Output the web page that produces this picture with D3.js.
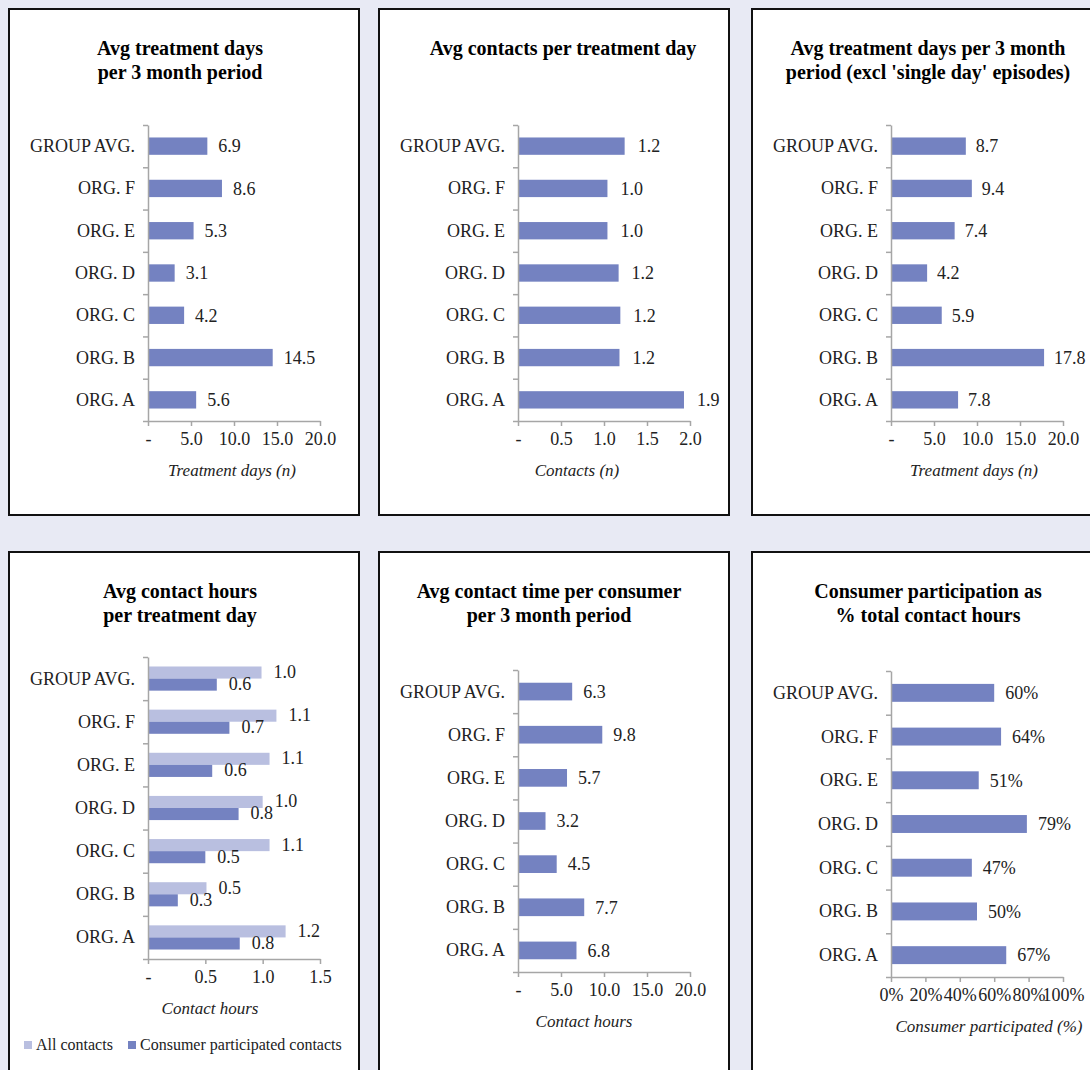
<!DOCTYPE html>
<html>
<head>
<meta charset="utf-8">
<script src="https://cdn.jsdelivr.net/npm/d3@7"></script>
<style>
  body { margin: 0; background: #e8eaf4; }
  svg { display: block; }
</style>
</head>
<body>
<svg id="mySVG" width="1090" height="1070"></svg>
<script>
// ---data---
var categories = ["GROUP AVG.", "ORG. F", "ORG. E", "ORG. D", "ORG. C", "ORG. B", "ORG. A"]

var treatDays = [6.9, 8.6, 5.3, 3.1, 4.2, 14.5, 5.6]
var contactsPerDay = [1.24, 1.04, 1.04, 1.17, 1.19, 1.18, 1.93]
var treatDaysExcl = [8.7, 9.4, 7.4, 4.2, 5.9, 17.8, 7.8]
var hoursAll = [0.99, 1.12, 1.06, 1.0, 1.06, 0.51, 1.2]
var hoursConsumer = [0.6, 0.71, 0.56, 0.79, 0.5, 0.26, 0.8]
var timePerConsumer = [6.3, 9.8, 5.7, 3.2, 4.5, 7.7, 6.8]
var consumerPct = [0.60, 0.64, 0.51, 0.79, 0.47, 0.50, 0.67]

var ticks20 = [0, 5, 10, 15, 20]
var ticks2 = [0, 0.5, 1, 1.5, 2]
var ticks15 = [0, 0.5, 1, 1.5]
var ticksPct = [0, 0.2, 0.4, 0.6, 0.8, 1]

var legendNames = ["All contacts", "Consumer participated contacts"]

// ---panel setup---
var BarCol = "#7482c1"
var LightCol = "#b9bfe0"
var AxisCol = "#a6a6a6"
var Font = "'Liberation Serif', 'Times New Roman', serif"
var LabelSize = 18

var fmt1 = function(d) { return d === 0 ? "-" : d3.format(".1f")(d) }
var fmtPct = d3.format(".0%")

var panels = [
  { x: 9, y: 9, w: 350, h: 506, titleDx: 171, plotTop: 116, plotH: 296, gap: 11, axTitleDx: 84,
    title: ["Avg treatment days", "per 3 month period"], series: [treatDays], max: 20, ticks: ticks20, fmt: fmt1, valFmt: d3.format(".1f"), axTitle: "Treatment  days (n)" },
  { x: 379, y: 9, w: 350, h: 506, titleDx: 184, plotTop: 116, plotH: 296, gap: 13, axTitleDx: 59,
    title: ["Avg contacts per treatment day"], series: [contactsPerDay], max: 2, ticks: ticks2, fmt: fmt1, valFmt: d3.format(".1f"), axTitle: "Contacts (n)" },
  { x: 752, y: 9, w: 350, h: 506, titleDx: 176, plotTop: 116, plotH: 296, gap: 10, axTitleDx: 83,
    title: ["Avg treatment days per 3 month", "period (excl 'single day' episodes)"], series: [treatDaysExcl], max: 20, ticks: ticks20, fmt: fmt1, valFmt: d3.format(".1f"), axTitle: "Treatment days (n)" },
  { x: 9, y: 552, w: 350, h: 530, titleDx: 171, plotTop: 105, plotH: 302, gap: 12, axTitleDx: 62,
    title: ["Avg contact hours", "per treatment day"], series: [hoursAll, hoursConsumer], max: 1.5, ticks: ticks15, fmt: fmt1, valFmt: d3.format(".1f"), axTitle: "Contact hours", legend: true },
  { x: 379, y: 552, w: 350, h: 530, titleDx: 170, plotTop: 118, plotH: 302, gap: 11, axTitleDx: 66,
    title: ["Avg contact time per consumer", "per 3 month period"], series: [timePerConsumer], max: 20, ticks: ticks20, fmt: fmt1, valFmt: d3.format(".1f"), axTitle: "Contact  hours" },
  { x: 752, y: 552, w: 350, h: 530, titleDx: 176, plotTop: 119, plotH: 306, gap: 11, axTitleDx: 98,
    title: ["Consumer participation as", "% total contact hours"], series: [consumerPct], max: 1, ticks: ticksPct, fmt: fmtPct, valFmt: fmtPct, axTitle: "Consumer participated (%)" }
]

var MySVG = d3.select("#mySVG")
MySVG.append("rect")
  .attr("width", 1090).attr("height", 1070)
  .attr("fill", "#e8eaf4")

panels.forEach(function(p) {
  var g = MySVG.append("g")
    .attr("transform", "translate(" + p.x + "," + p.y + ")")
    .attr("font-family", Font)

  g.append("rect")
    .attr("x", 0).attr("y", 0)
    .attr("width", p.w).attr("height", p.h)
    .attr("fill", "white")
    .attr("stroke", "#111")
    .attr("stroke-width", 2)

  //---title---
  var t = g.append("text")
    .attr("text-anchor", "middle")
    .attr("font-size", 20)
    .attr("font-weight", "bold")
    .attr("fill", "#000")
  p.title.forEach(function(line, i) {
    t.append("tspan")
      .attr("x", p.titleDx)
      .attr("y", 46 + i * 24)
      .text(line)
  })

  var ax0 = 139
  var x = d3.scaleLinear().domain([0, p.max]).range([ax0, ax0 + 172])
  var y = d3.scaleBand().domain(categories)
    .range([p.plotTop, p.plotTop + p.plotH])
    .paddingInner(p.series.length > 1 ? 0.44 : 0.59)
    .paddingOuter(p.series.length > 1 ? 0.22 : 0.295)
  var sub = d3.scaleBand().domain(d3.range(p.series.length)).range([0, y.bandwidth()])

  //---bars---
  p.series.forEach(function(vals, si) {
    var col = p.series.length > 1 && si === 0 ? LightCol : BarCol
    g.append("g").selectAll("rect")
      .data(vals)
      .join("rect")
      .attr("x", x(0))
      .attr("y", function(d, i) { return y(categories[i]) + sub(si) })
      .attr("width", function(d) { return x(d) - x(0) })
      .attr("height", sub.bandwidth())
      .attr("fill", col)

    g.append("g").selectAll("text")
      .data(vals)
      .join("text")
      .attr("x", function(d) { return x(d) + p.gap })
      .attr("y", function(d, i) { return y(categories[i]) + sub(si) + sub.bandwidth() / 2 })
      .attr("dy", p.series.length > 1 ? "0.3em" : "0.35em")
      .attr("font-size", LabelSize)
      .attr("fill", "#222")
      .text(function(d) { return p.valFmt(d) })
  })

  //---category axis---
  var yb = d3.scaleLinear().domain([0, categories.length]).range([p.plotTop, p.plotTop + p.plotH])
  var yAxis = g.append("g")
    .attr("transform", "translate(" + ax0 + ",0)")
    .call(d3.axisLeft(yb).tickValues(d3.range(categories.length + 1)).tickSize(5).tickSizeOuter(0).tickFormat(""))
  yAxis.select(".domain").attr("stroke", AxisCol).attr("stroke-width", 1.5)
  yAxis.selectAll(".tick line").attr("stroke", AxisCol).attr("stroke-width", 1.5)

  g.append("g").selectAll("text")
    .data(categories)
    .join("text")
    .attr("x", ax0 - 13)
    .attr("y", function(d) { return y(d) + y.bandwidth() / 2 })
    .attr("dy", "0.33em")
    .attr("text-anchor", "end")
    .attr("font-size", LabelSize)
    .attr("fill", "#222")
    .text(function(d) { return d })

  //---value axis---
  var base = p.plotTop + p.plotH
  var xAxis = g.append("g")
    .attr("transform", "translate(0," + base + ")")
    .call(d3.axisBottom(x).tickValues(p.ticks).tickSize(5).tickSizeOuter(0).tickPadding(6).tickFormat(p.fmt))
  xAxis.select(".domain").attr("stroke", AxisCol).attr("stroke-width", 1.5)
  xAxis.selectAll(".tick line").attr("stroke", AxisCol).attr("stroke-width", 1.5)
  xAxis.selectAll(".tick text")
    .attr("font-family", Font)
    .attr("font-size", LabelSize)
    .attr("fill", "#222")

  g.append("text")
    .attr("x", ax0 + p.axTitleDx)
    .attr("y", base + 55)
    .attr("text-anchor", "middle")
    .attr("font-size", 17)
    .attr("font-style", "italic")
    .attr("fill", "#222")
    .text(p.axTitle)

  //---legend---
  if (p.legend) {
    var lx = [15, 119]
    legendNames.forEach(function(name, i) {
      g.append("rect")
        .attr("x", lx[i]).attr("y", 489)
        .attr("width", 8).attr("height", 8)
        .attr("fill", i === 0 ? LightCol : BarCol)
      g.append("text")
        .attr("x", lx[i] + 12).attr("y", 498)
        .attr("font-size", 16)
        .attr("fill", "#222")
        .text(name)
    })
  }
})
</script>
</body>
</html>
